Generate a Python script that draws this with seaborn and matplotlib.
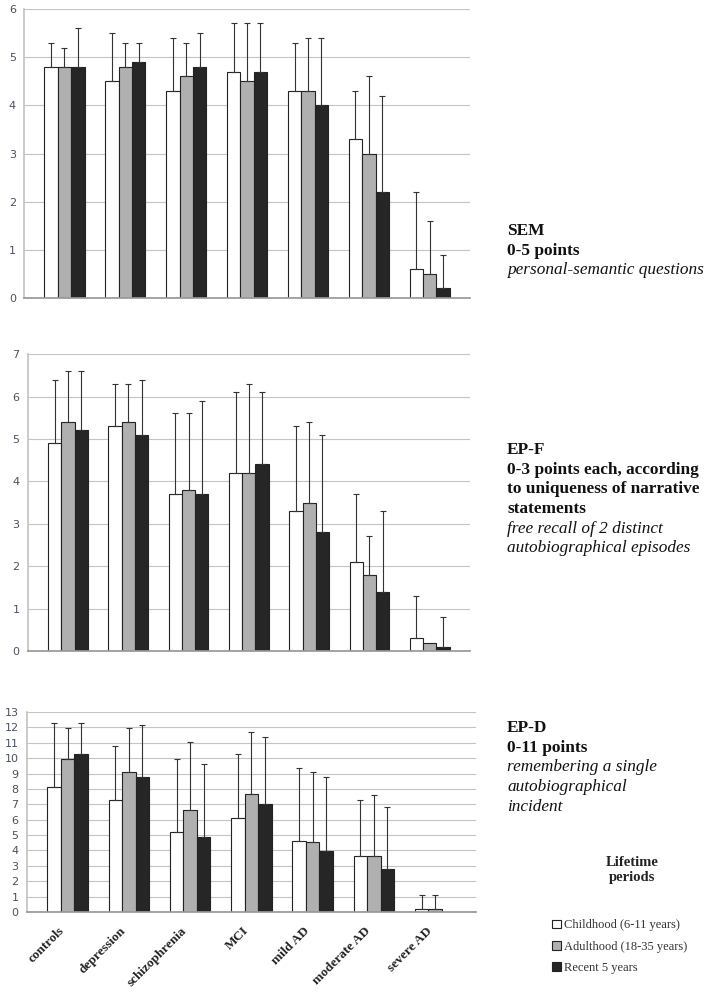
import seaborn as sns
import numpy as np
import pandas as pd
import matplotlib.pyplot as plt
import matplotlib.transforms as mtransforms

groups = ['controls', 'depression', 'schizophrenia', 'MCI', 'mild AD', 'moderate AD', 'severe AD']
periods = ['Childhood (6-11 years)', 'Adulthood (18-35 years)', 'Recent 5 years']
colors = ['#ffffff', '#b0b0b0', '#262626']

# SEM
sem_child = [4.8, 4.5, 4.3, 4.7, 4.3, 3.3, 0.6]
sem_adult = [4.8, 4.8, 4.6, 4.5, 4.3, 3.0, 0.5]
sem_recent = [4.8, 4.9, 4.8, 4.7, 4.0, 2.2, 0.2]
sem_child_sd = [0.5, 1.0, 1.1, 1.0, 1.0, 1.0, 1.6]
sem_adult_sd = [0.4, 0.5, 0.7, 1.2, 1.1, 1.6, 1.1]
sem_recent_sd = [0.8, 0.4, 0.7, 1.0, 1.4, 2.0, 0.7]

# EP-F
epf_child = [4.9, 5.3, 3.7, 4.2, 3.3, 2.1, 0.3]
epf_adult = [5.4, 5.4, 3.8, 4.2, 3.5, 1.8, 0.2]
epf_recent = [5.2, 5.1, 3.7, 4.4, 2.8, 1.4, 0.1]
epf_child_sd = [1.5, 1.0, 1.9, 1.9, 2.0, 1.6, 1.0]
epf_adult_sd = [1.2, 0.9, 1.8, 2.1, 1.9, 0.9, np.nan]
epf_recent_sd = [1.4, 1.3, 2.2, 1.7, 2.3, 1.9, 0.7]

# EP-D
epd_child = [8.15, 7.25, 5.2, 6.1, 4.6, 3.65, 0.2]
epd_adult = [9.95, 9.1, 6.65, 7.7, 4.55, 3.65, 0.2]
epd_recent = [10.3, 8.75, 4.85, 7.0, 3.95, 2.8, 0.0]
epd_child_sd = [4.15, 3.55, 4.75, 4.2, 4.75, 3.65, 0.9]
epd_adult_sd = [2.0, 2.85, 4.4, 4.0, 4.55, 3.95, 0.9]
epd_recent_sd = [2.0, 3.4, 4.8, 4.35, 4.85, 4.05, np.nan]


def make_df(c, a, r):
    rows = []
    for vals, p in zip([c, a, r], periods):
        for g, v in zip(groups, vals):
            rows.append({'group': g, 'period': p, 'score': v})
    return pd.DataFrame(rows)


sns.set_theme(style='white')
plt.rcParams['font.family'] = ['DejaVu Sans']

fig = plt.figure(figsize=(7.09, 9.93), dpi=100)

panels = [
    ([0.034, 0.6999, 0.629, 0.291], make_df(sem_child, sem_adult, sem_recent),
     [sem_child_sd, sem_adult_sd, sem_recent_sd], 6),
    ([0.0395, 0.3444, 0.623, 0.299], make_df(epf_child, epf_adult, epf_recent),
     [epf_child_sd, epf_adult_sd, epf_recent_sd], 7),
    ([0.038, 0.0816, 0.633, 0.2014], make_df(epd_child, epd_adult, epd_recent),
     [epd_child_sd, epd_adult_sd, epd_recent_sd], 13),
]

axes = []
for rect, df, sds, ymax in panels:
    ax = fig.add_axes(rect)
    sns.barplot(data=df, x='group', y='score', hue='period', palette=colors,
                width=0.66, edgecolor='#222222', linewidth=0.8, errorbar=None,
                legend=True, ax=ax)
    for cont, sd in zip(ax.containers, sds):
        for bar, e in zip(cont, sd):
            if np.isnan(e):
                continue
            xc = bar.get_x() + bar.get_width() / 2
            ax.errorbar(xc, bar.get_height(), yerr=[[0], [e]], fmt='none',
                        ecolor='#333333', elinewidth=0.8, capsize=2.5, capthick=0.8,
                        zorder=1)
    ax.set_ylim(0, ymax)
    ax.set_yticks(np.arange(0, ymax + 1, 1))
    ax.yaxis.grid(True, color='#c4c4c4', linewidth=0.8)
    ax.set_axisbelow(True)
    for s in ['top', 'right']:
        ax.spines[s].set_visible(False)
    ax.spines['left'].set_color('#c4c4c4')
    ax.spines['bottom'].set_color('#999999')
    ax.tick_params(axis='y', labelsize=8, colors='#4a5060', length=0, pad=6)
    ax.set_xlabel('')
    ax.set_ylabel('')
    axes.append(ax)

handles, labels = axes[2].get_legend_handles_labels()
for ax in axes:
    ax.get_legend().remove()

for ax in axes[:2]:
    ax.set_xticklabels([])
    ax.tick_params(axis='x', length=0)
axes[2].tick_params(axis='x', length=0, pad=2)
axes[2].set_xticks(range(len(groups)))
axes[2].set_xticklabels(groups, rotation=45, ha='right', rotation_mode='anchor',
                        family='Liberation Serif', fontweight='bold', fontsize=9.5,
                        color='#222222')
shift = mtransforms.ScaledTranslation(-9 / 100, -10 / 100, fig.dpi_scale_trans)
for lab in axes[2].get_xticklabels():
    lab.set_transform(lab.get_transform() + shift)

serif = 'Liberation Serif'
tx = 507 / 709


def block(y0, lines):
    y = y0
    for txt, style in lines:
        fig.text(tx, 1 - y / 993, txt, family=serif, fontsize=12.4,
                 fontweight='bold' if style == 'b' else 'normal',
                 fontstyle='italic' if style == 'i' else 'normal',
                 va='center', ha='left', color='#111111')
        y += 19.7


block(231, [('SEM', 'b'), ('0-5 points', 'b'), ('personal-semantic questions', 'i')])
block(450, [('EP-F', 'b'), ('0-3 points each, according', 'b'),
            ('to uniqueness of narrative', 'b'), ('statements', 'b'),
            ('free recall of 2 distinct', 'i'), ('autobiographical episodes', 'i')])
block(728, [('EP-D', 'b'), ('0-11 points', 'b'), ('remembering a single', 'i'),
            ('autobiographical', 'i'), ('incident', 'i')])

fig.text(632 / 709, 1 - 870 / 993, 'Lifetime\nperiods', family=serif, fontsize=10.5,
         fontweight='bold', ha='center', va='center', color='#222222', linespacing=1.25)

fig.legend(handles, labels, loc='upper left', bbox_to_anchor=(541 / 709, 1 - 908 / 993),
           frameon=False, prop={'family': serif, 'size': 9}, handlelength=0.7,
           handleheight=0.7, handletextpad=0.2, labelspacing=0.75, labelcolor='#333333')

fig.savefig('out.png', dpi=100)
